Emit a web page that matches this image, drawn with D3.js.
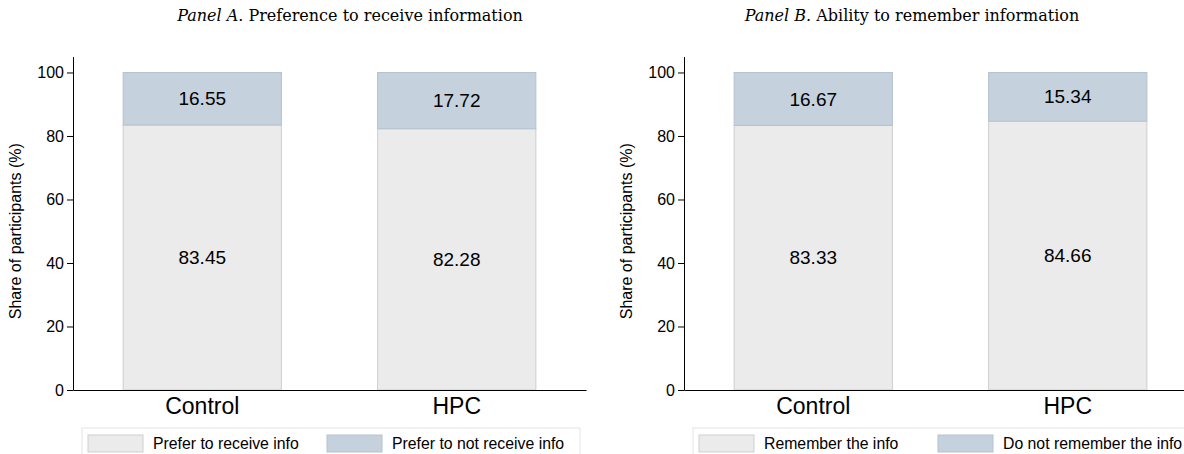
<!DOCTYPE html>
<html>
<head>
<meta charset="utf-8">
<script src="https://cdn.jsdelivr.net/npm/d3@7"></script>
<style>
  body { margin: 0; background: #fff; }
  svg text { font-family: "Liberation Sans", Arial, sans-serif; fill: #000; }
  .title { font-family: "DejaVu Serif", "Liberation Serif", serif; }
</style>
</head>
<body>
<div id="drawingArea"></div>
<script>
// chart data
var groups = ["Control", "HPC"];
var yTicks = [0, 20, 40, 60, 80, 100];

var receiveYes = [83.45, 82.28];
var receiveNo = [16.55, 17.72];
var rememberYes = [83.33, 84.66];
var rememberNo = [16.67, 15.34];

var legendA = ["Prefer to receive info", "Prefer to not receive info"];
var legendB = ["Remember the info", "Do not remember the info"];

var bottomColor = "#ebebeb", bottomStroke = "#cfcfcf";
var topColor = "#c5d1dd", topStroke = "#b5c3cf";

var svg = d3.select("#drawingArea").append("svg")
    .attr("width", 1184)
    .attr("height", 454);

/**
*   Draws one panel: stacked bars, axes, title and legend
*/
function drawPanel(left, titleItalic, titleRest, titleX, lower, upper, legend) {

    var g = svg.append("g")
        .attr("transform", "translate(" + left + ",0)");

    var width = 513;

    var x = d3.scaleBand()
        .domain(groups)
        .range([0, width])
        .paddingInner(0.378)
        .paddingOuter(0.197);

    var y = d3.scaleLinear()
        .domain([0, 105])
        .range([390, 56.6]);

    // title
    var t = svg.append("text")
        .attr("class", "title")
        .attr("x", titleX)
        .attr("y", 21)
        .attr("text-anchor", "middle")
        .style("font-size", "16px");
    t.append("tspan").style("font-style", "italic").text(titleItalic);
    t.append("tspan").text(titleRest);

    // lower segments
    g.selectAll(".lower")
        .data(groups)
        .enter().append("rect")
        .attr("x", function(d) { return x(d); })
        .attr("width", x.bandwidth())
        .attr("y", function(d, i) { return y(lower[i]); })
        .attr("height", function(d, i) { return y(0) - y(lower[i]); })
        .attr("fill", bottomColor)
        .attr("stroke", bottomStroke)
        .attr("stroke-width", 1);

    // upper segments
    g.selectAll(".upper")
        .data(groups)
        .enter().append("rect")
        .attr("x", function(d) { return x(d); })
        .attr("width", x.bandwidth())
        .attr("y", function(d, i) { return y(lower[i] + upper[i]); })
        .attr("height", function(d, i) { return y(lower[i]) - y(lower[i] + upper[i]); })
        .attr("fill", topColor)
        .attr("stroke", topStroke)
        .attr("stroke-width", 1);

    // value labels
    g.selectAll(".lowLab")
        .data(groups)
        .enter().append("text")
        .attr("x", function(d) { return x(d) + x.bandwidth() / 2; })
        .attr("y", function(d, i) { return y(lower[i] / 2); })
        .attr("dy", "0.35em")
        .attr("text-anchor", "middle")
        .style("font-size", "19px")
        .text(function(d, i) { return lower[i].toFixed(2); });

    g.selectAll(".upLab")
        .data(groups)
        .enter().append("text")
        .attr("x", function(d) { return x(d) + x.bandwidth() / 2; })
        .attr("y", function(d, i) { return y(lower[i] + upper[i] / 2); })
        .attr("dy", "0.35em")
        .attr("text-anchor", "middle")
        .style("font-size", "19px")
        .text(function(d, i) { return upper[i].toFixed(2); });

    // y axis
    var ya = g.append("g")
        .call(d3.axisLeft(y).tickValues(yTicks).tickSize(6).tickSizeOuter(0).tickPadding(3));
    ya.selectAll("text").style("font-size", "16px");
    ya.select(".domain").attr("stroke", "#000");

    // x axis
    var xa = g.append("g")
        .attr("transform", "translate(0," + y(0) + ")")
        .call(d3.axisBottom(x).tickSize(0).tickPadding(8));
    xa.selectAll("text").style("font-size", "23px");
    xa.select(".domain").attr("stroke", "#000");

    // y label
    g.append("text")
        .attr("transform", "translate(" + (-52) + "," + y(50) + ") rotate(-90)")
        .attr("text-anchor", "middle")
        .style("font-size", "16px")
        .text("Share of participants (%)");

    // legend
    var lg = g.append("g").attr("transform", "translate(9,428)");
    lg.append("rect")
        .attr("width", 498)
        .attr("height", 30)
        .attr("fill", "#fff")
        .attr("stroke", "#e4e4e4");
    var colors = [[bottomColor, bottomStroke], [topColor, topStroke]];
    var offs = [6, 245];
    legend.forEach(function(lbl, i) {
        lg.append("rect")
            .attr("x", offs[i])
            .attr("y", 7)
            .attr("width", 55)
            .attr("height", 17)
            .attr("fill", colors[i][0])
            .attr("stroke", colors[i][1]);
        lg.append("text")
            .attr("x", offs[i] + 65)
            .attr("y", 15.5)
            .attr("dy", "0.35em")
            .style("font-size", "15.8px")
            .text(lbl);
    });
}

drawPanel(73, "Panel A.", " Preference to receive information", 350, receiveYes, receiveNo, legendA);
drawPanel(684, "Panel B.", " Ability to remember information", 912, rememberYes, rememberNo, legendB);
</script>
</body>
</html>
